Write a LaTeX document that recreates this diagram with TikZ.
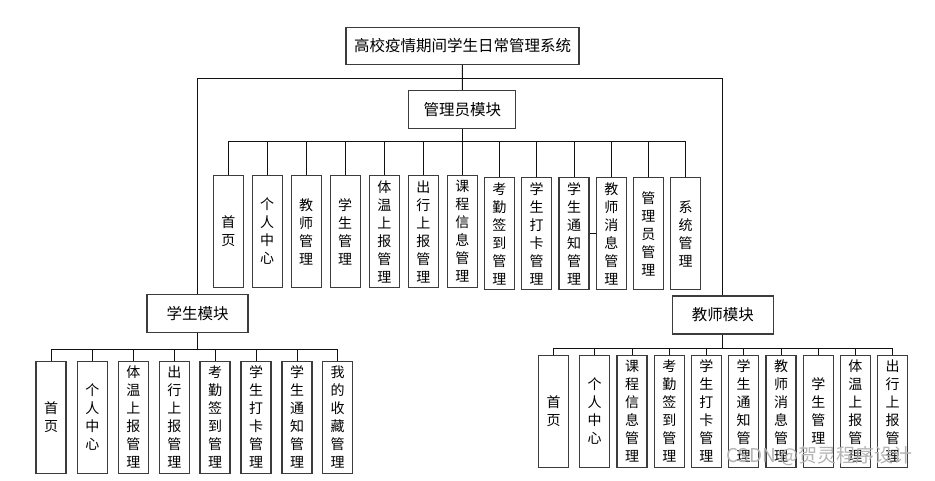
\documentclass[tikz,border=0pt]{standalone}
\usepackage{fontspec}
\setmainfont{Noto Sans CJK SC}
\definecolor{boxLine}{HTML}{3C3C3C}
\definecolor{linkLine}{HTML}{111111}
\definecolor{markText}{HTML}{B4B4B4}

\begin{document}
\begin{tikzpicture}[
  x=1pt, y=-1pt,
  box/.style={
    rectangle, draw=boxLine, line width=1.1pt, fill=white,
    inner sep=0pt, align=center
  },
  title/.style={box, minimum width=233pt, minimum height=37pt,
    font=\fontsize{15.5}{18}\selectfont},
  module/.style={box, minimum width=101pt, minimum height=38pt,
    font=\fontsize{15.5}{18}\selectfont},
  leaf/.style={box, minimum width=30pt, minimum height=112pt,
    font=\fontsize{14}{18}\selectfont},
  link/.style={draw=linkLine, line width=0.9pt}
]
\useasboundingbox (0,0) rectangle (935,480);

%  Top levels
\node[title] (sys) at (462.5,45.8) {高校疫情期间学生日常管理系统};
\node[module, minimum width=107pt] (admin) at (462.3,109.5) {管理员模块};
\node[module] (stud) at (197.5,313.3) {学生模块};
\node[module] (teach) at (722.8,315) {教师模块};

%  Admin row
\node[leaf] (a1)  at (228.3,231.5) {首\\页};
\node[leaf] (a2)  at (267.2,231.5) {个\\人\\中\\心};
\node[leaf] (a3)  at (306.2,231.5) {教\\师\\管\\理};
\node[leaf] (a4)  at (345.2,231.5) {学\\生\\管\\理};
\node[leaf] (a5)  at (384.3,231.5) {体\\温\\上\\报\\管\\理};
\node[leaf] (a6)  at (423.3,231.5) {出\\行\\上\\报\\管\\理};
\node[leaf] (a7)  at (462.3,231.5) {课\\程\\信\\息\\管\\理};
\node[leaf] (a8)  at (499.3,233.5) {考\\勤\\签\\到\\管\\理};
\node[leaf] (a9)  at (536.7,233.5) {学\\生\\打\\卡\\管\\理};
\node[leaf] (a10) at (574.0,233.5) {学\\生\\通\\知\\管\\理};
\node[leaf] (a11) at (611.3,233.5) {教\\师\\消\\息\\管\\理};
\node[leaf] (a12) at (648.3,233.5) {管\\理\\员\\管\\理};
\node[leaf] (a13) at (685.7,233.5) {系\\统\\管\\理};

%  Student row
\node[leaf] (s1) at (51.0,417.2)  {首\\页};
\node[leaf] (s2) at (92.3,417.2)  {个\\人\\中\\心};
\node[leaf] (s3) at (133.3,417.2) {体\\温\\上\\报\\管\\理};
\node[leaf] (s4) at (174.3,417.2) {出\\行\\上\\报\\管\\理};
\node[leaf] (s5) at (215.0,417.2) {考\\勤\\签\\到\\管\\理};
\node[leaf] (s6) at (256.0,417.2) {学\\生\\打\\卡\\管\\理};
\node[leaf] (s7) at (297.0,417.2) {学\\生\\通\\知\\管\\理};
\node[leaf] (s8) at (337.7,417.2) {我\\的\\收\\藏\\管\\理};

%  Teacher row
\node[leaf] (t1)  at (553.7,411.2) {首\\页};
\node[leaf] (t2)  at (594.7,411.2) {个\\人\\中\\心};
\node[leaf] (t3)  at (632.0,411.2) {课\\程\\信\\息\\管\\理};
\node[leaf] (t4)  at (669.3,411.2) {考\\勤\\签\\到\\管\\理};
\node[leaf] (t5)  at (706.3,411.2) {学\\生\\打\\卡\\管\\理};
\node[leaf] (t6)  at (743.7,411.2) {学\\生\\通\\知\\管\\理};
\node[leaf] (t7)  at (781.0,411.2) {教\\师\\消\\息\\管\\理};
\node[leaf] (t8)  at (818.3,411.2) {学\\生\\管\\理};
\node[leaf] (t9)  at (855.3,411.2) {体\\温\\上\\报\\管\\理};
\node[leaf] (t10) at (892.7,411.2) {出\\行\\上\\报\\管\\理};

%  Bus points
\coordinate (sysBus) at (462.5,78.5);
\coordinate (adminBus) at (462.3,141.7);
\coordinate (studBus) at (197.5,349);
\coordinate (teachBus) at (722.8,348.7);

%  Links
\draw[link] (sys) -- (admin);
\draw[link] (stud.north) |- (sysBus);
\draw[link] (teach.north) |- (sysBus);
\draw[link] (admin) -- (adminBus);
\draw[link] (stud) -- (studBus);
\draw[link] (teach) -- (teachBus);
\foreach \n in {a1,a2,a3,a4,a5,a6,a7,a8,a9,a10,a11,a12,a13}
  \draw[link] (\n.north) |- (adminBus);
\foreach \n in {s1,s2,s3,s4,s5,s6,s7,s8}
  \draw[link] (\n.north) |- (studBus);
\foreach \n in {t1,t2,t3,t4,t5,t6,t7,t8,t9,t10}
  \draw[link] (\n.north) |- (teachBus);
\draw[link] (a10) -- (a11);

%  Watermark
\node[anchor=west, text=markText, inner sep=0pt,
  font=\fontsize{19}{19}\selectfont] (mark) at (726,456) {CSDN @贺灵程序设计};

\end{tikzpicture}
\end{document}
